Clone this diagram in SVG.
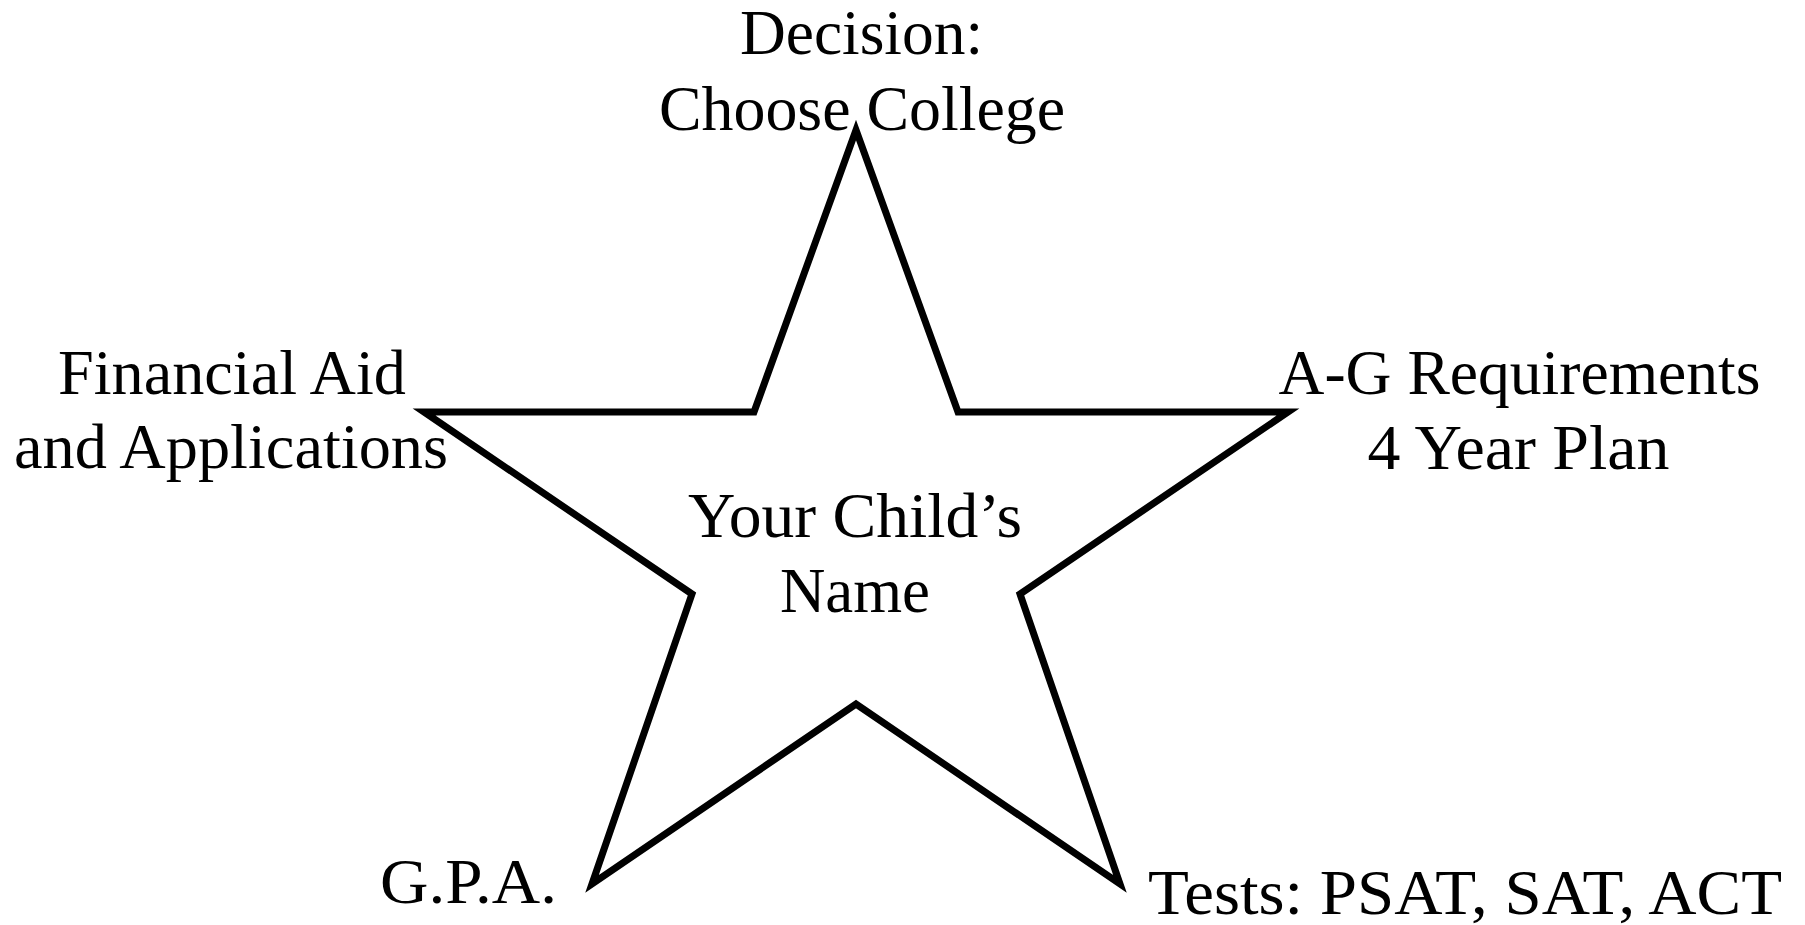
<svg xmlns="http://www.w3.org/2000/svg" width="1805" height="925" viewBox="0 0 1805 925">
<style>
  .lbl { font-family: "Liberation Serif", "Times New Roman", serif; font-size: 63px; fill: #000; text-anchor: middle; }
  .star { fill: none; stroke: #000; stroke-width: 7; stroke-linejoin: miter; stroke-miterlimit: 10; }
</style>
<rect width="1805" height="925" fill="#fff"/>
<g id="star">
  <polygon class="star" points="856,130 958,412 1288,412 1020,594 1120,884 856,704 592,884 692,594 424,412 754,412"/>
</g>
<g id="center">
  <text class="lbl" x="855" y="537" textLength="334" lengthAdjust="spacingAndGlyphs">Your Child’s</text>
  <text class="lbl" x="855" y="612" textLength="150" lengthAdjust="spacingAndGlyphs">Name</text>
</g>
<g id="decision">
  <text class="lbl" x="861.5" y="54" textLength="243" lengthAdjust="spacingAndGlyphs">Decision:</text>
  <text class="lbl" x="862" y="130" textLength="406" lengthAdjust="spacingAndGlyphs">Choose College</text>
</g>
<g id="financial">
  <text class="lbl" x="232" y="394" textLength="348" lengthAdjust="spacingAndGlyphs">Financial Aid</text>
  <text class="lbl" x="231" y="468" textLength="434" lengthAdjust="spacingAndGlyphs">and Applications</text>
</g>
<g id="requirements">
  <text class="lbl" x="1519.5" y="394" textLength="482" lengthAdjust="spacingAndGlyphs">A-G Requirements</text>
  <text class="lbl" x="1518.5" y="469" textLength="302" lengthAdjust="spacingAndGlyphs">4 Year Plan</text>
</g>
<g id="gpa">
  <text class="lbl" x="468.5" y="903" textLength="177" lengthAdjust="spacingAndGlyphs">G.P.A.</text>
</g>
<g id="tests">
  <text class="lbl" x="1465" y="914" textLength="634" lengthAdjust="spacingAndGlyphs">Tests: PSAT, SAT, ACT</text>
</g>
<g id="connectors"></g>
</svg>
